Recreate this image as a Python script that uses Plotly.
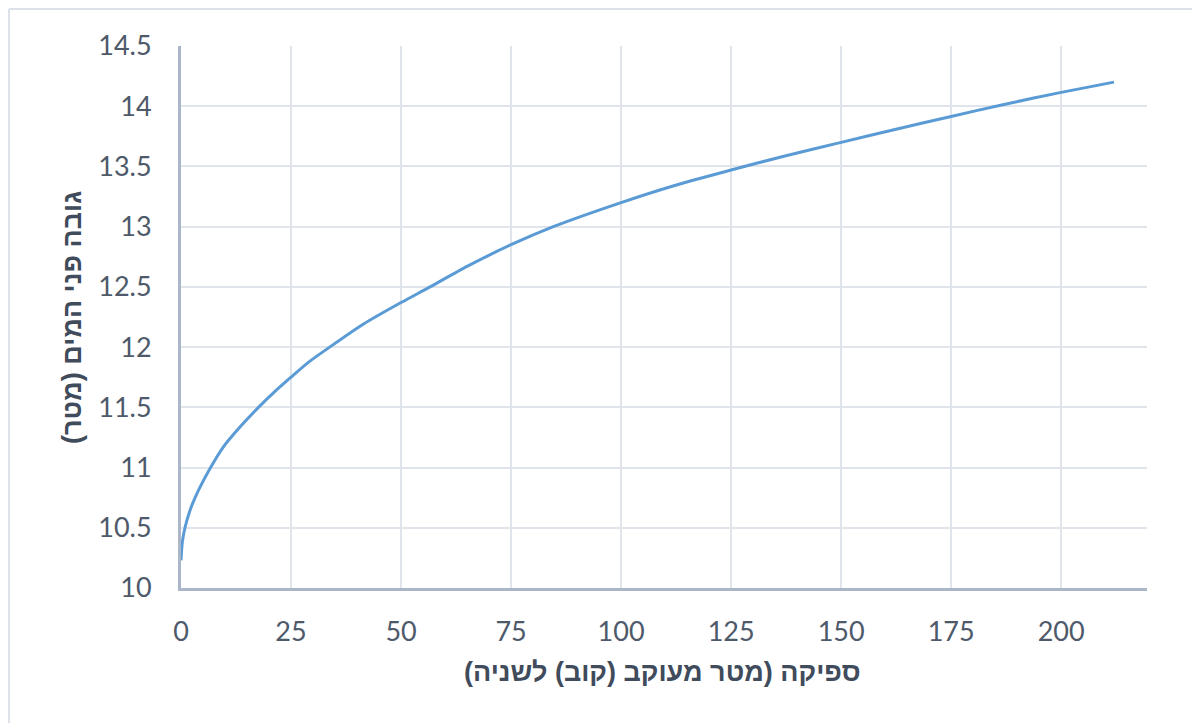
import plotly.graph_objects as go

# Discharge (m^3/s) vs water level (m)
discharge = [0, 0.3, 0.9, 2.0, 3.2, 4.5, 6.4, 9.6, 13.5, 17.6, 21.0, 25.0, 29.0, 33.0,
             41.4, 50.0, 56.6, 65.0, 75.0, 84.6, 100.0, 112.0, 125.0, 137.0, 150.0,
             162.0, 175.0, 187.0, 200.0, 212.0]
water_level = [10.23, 10.38, 10.50, 10.64, 10.75, 10.85, 10.98, 11.17, 11.34, 11.50,
               11.62, 11.75, 11.875, 11.98, 12.19, 12.37, 12.50, 12.67, 12.85, 13.00,
               13.20, 13.34, 13.47, 13.585, 13.70, 13.805, 13.915, 14.015, 14.115, 14.20]

x_title = "\u200fספיקה (מטר מעוקב (קוב) לשניה)\u200f"
y_title = "\u200fגובה פני המים (מטר)\u200f"

OFF = 8  # page body margin
W, H = 1200 - OFF, 723 - OFF
ML, MT = 181 - OFF, 46 - OFF
PR, PB = 1147 - OFF, 588 - OFF
MR, MB = W - PR, H - PB
PW, PH = PR - ML, PB - MT

tick_color = "#4e596a"
title_color = "#404b5b"
grid_color = "#e0e4eb"
axis_color = "#abb7c8"

fig = go.Figure()
fig.add_trace(go.Scatter(
    x=discharge, y=water_level, mode="lines",
    line=dict(color="#5b9bd5", width=3, shape="spline", smoothing=0.7),
    hoverinfo="x+y", showlegend=False,
))

def px_x(p):
    return (p - OFF - ML) / PW

def px_y(p):
    return (PB - (p - OFF)) / PH

fig.update_layout(
    width=W, height=H,
    margin=dict(l=ML, r=MR, t=MT, b=MB),
    paper_bgcolor="white", plot_bgcolor="white",
    font=dict(family="Lato, 'Open Sans', sans-serif", size=27, color=tick_color),
    xaxis=dict(
        range=[0, 219.5], tick0=0, dtick=25, showgrid=True, gridcolor=grid_color,
        gridwidth=2, showline=True, linecolor=axis_color, linewidth=3,
        ticks="", ticklabelstandoff=18, zeroline=False,
        tickfont=dict(size=27, color=tick_color),
    ),
    yaxis=dict(
        range=[10, 14.5], tick0=10, dtick=0.5, showgrid=True, gridcolor=grid_color,
        gridwidth=2, showline=True, linecolor=axis_color, linewidth=3,
        ticks="", ticklabelstandoff=21, zeroline=False,
        tickfont=dict(size=27, color=tick_color),
    ),
    annotations=[
        dict(text=x_title, xref="paper", yref="paper", x=px_x(662), y=px_y(672),
             xanchor="center", yanchor="middle", showarrow=False,
             font=dict(family="'Liberation Sans', Arial, sans-serif", size=27,
                       color=title_color, weight="bold")),
        dict(text=y_title, xref="paper", yref="paper", x=px_x(72), y=px_y(318),
             xanchor="center", yanchor="middle", showarrow=False, textangle=-90,
             font=dict(family="'Liberation Sans', Arial, sans-serif", size=27,
                       color=title_color, weight="bold")),
    ],
    shapes=[
        dict(type="line", xref="paper", yref="paper", x0=px_x(9), x1=px_x(1200),
             y0=px_y(9), y1=px_y(9), line=dict(color="#dde2ea", width=2), layer="below"),
        dict(type="line", xref="paper", yref="paper", x0=px_x(9), x1=px_x(9),
             y0=px_y(9), y1=px_y(723), line=dict(color="#dde2ea", width=2), layer="below"),
    ],
)

fig.write_html("out.html")
